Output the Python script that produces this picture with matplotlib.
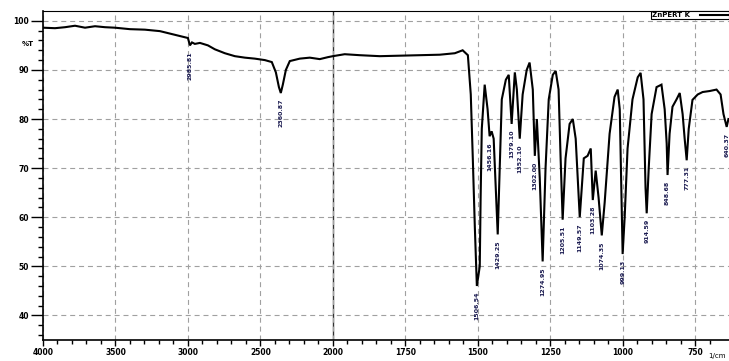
import numpy as np
import matplotlib
matplotlib.use("Agg")
import matplotlib.pyplot as plt
import matplotlib.transforms as mtransforms

# wavenumber (1/cm) and transmittance (%T)
wavenumber = [4000, 3917, 3848, 3779, 3710, 3641, 3572, 3503, 3400, 3297,
              3193, 3110, 3041, 3000, 2986, 2972, 2952, 2917, 2862, 2814,
              2745, 2676, 2607, 2538, 2469, 2421, 2393, 2372, 2359, 2345,
              2324, 2297, 2228, 2159, 2090, 2034, 2000,
              1959, 1907, 1838, 1769, 1700, 1631, 1579, 1552, 1534, 1524,
              1517, 1510, 1503, 1493, 1490, 1486, 1476, 1466, 1459, 1452,
              1445, 1435, 1431, 1424, 1417, 1403, 1393, 1383, 1372, 1365,
              1355, 1345, 1331, 1321, 1310, 1303, 1296, 1286, 1276, 1266,
              1255, 1241, 1231, 1221, 1214, 1207, 1197, 1183, 1172, 1162,
              1155, 1148, 1141, 1134, 1121, 1110, 1103, 1093, 1083, 1072,
              1062, 1045, 1028, 1017, 1010, 1003, 1000, 993, 983, 966,
              948, 938, 928, 921, 917, 910, 900, 883, 866, 855,
              848, 845, 838, 828, 814, 803, 793, 786, 779, 772,
              759, 741, 724, 700, 676, 662, 652, 641, 635]
transmittance = [98.6, 98.5, 98.7, 99.0, 98.6, 98.9, 98.7, 98.6, 98.3, 98.2,
                 97.9, 97.3, 96.8, 96.5, 95.0, 95.6, 95.3, 95.5, 95.0, 94.2,
                 93.4, 92.8, 92.5, 92.3, 92.0, 91.6, 89.5, 86.5, 85.3, 87.0,
                 90.0, 91.8, 92.3, 92.5, 92.2, 92.6, 92.8,
                 93.2, 93.0, 92.8, 92.9, 93.0, 93.1, 93.4, 94.0, 93.0, 85.0,
                 72.0, 58.0, 46.0, 50.0, 64.0, 78.0, 87.0, 82.0, 76.5, 77.5,
                 76.0, 62.0, 56.5, 70.0, 84.0, 88.0, 89.0, 79.0, 89.5, 86.0,
                 76.0, 85.0, 90.0, 91.5, 86.0, 72.5, 80.0, 68.0, 51.0, 70.0,
                 84.0, 89.0, 89.8, 86.0, 72.0, 59.5, 72.0, 79.0, 80.0, 76.0,
                 68.0, 60.0, 66.0, 72.0, 72.5, 74.0, 63.5, 69.5, 64.0, 56.3,
                 63.0, 77.0, 84.5, 86.0, 82.0, 62.0, 52.5, 60.0, 74.0, 84.0,
                 88.5, 89.4, 84.0, 66.0, 60.8, 70.0, 81.0, 86.5, 87.0, 82.0,
                 75.0, 68.6, 77.0, 82.5, 84.0, 85.3, 81.0, 76.0, 71.6, 78.0,
                 83.9, 85.0, 85.5, 85.7, 86.0, 85.0, 81.0, 78.4, 80.0]

# peak annotations
peak_pos = [2986, 2359, 1503, 1459, 1431, 1383, 1355, 1303, 1276, 1207,
            1148, 1103, 1072, 1000, 917, 845, 779, 641]
peak_lbl = ["2985.81", "2360.87", "1506.54", "1456.16", "1429.25", "1379.10",
            "1352.10", "1302.00", "1274.95", "1205.51", "1149.57", "1103.28",
            "1074.35", "999.13", "914.59", "848.68", "777.31", "640.37"]

xticks = [4000, 3500, 3000, 2500, 2000, 1750, 1500, 1250, 1000, 750]
yticks = [40, 50, 60, 70, 80, 90, 100]


def fwd(w):
    w = np.asarray(w, dtype=float)
    return np.where(w > 2000, 2000 + (w - 2000) / 2.0, w)


def inv(u):
    u = np.asarray(u, dtype=float)
    return np.where(u > 2000, 2000 + (u - 2000) * 2.0, u)


fig = plt.figure(figsize=(7.29, 3.61), dpi=100)
ax = fig.add_axes([43 / 729, 1 - 340 / 361, 1 - 43 / 729, 329 / 361])
ax.set_xscale("function", functions=(fwd, inv))

ax.plot(wavenumber, transmittance, color="black", lw=1.5, label="ZnPERT K",
        zorder=3, solid_joinstyle="miter")

ax.set_xlim(4000, 633)
ax.set_ylim(35, 102)

ax.set_xticks(xticks)
ax.set_xticklabels([str(t) for t in xticks])
ax.set_xticks(list(np.arange(700, 2000, 50)) + list(np.arange(2100, 4000, 100)),
              minor=True)
ax.set_yticks(yticks)
ax.set_yticks(np.arange(36, 102, 2), minor=True)

ax.grid(which="major", ls=(0, (4.5, 3.5)), color="#a0a0a0", lw=0.8, zorder=0)
ax.axvline(2000, color="#333333", lw=1.0, zorder=1)

ax.tick_params(axis="y", which="major", length=8.5, width=1.0, pad=1.5,
               labelsize=5.5)
ax.tick_params(axis="y", which="minor", length=3.5, width=1.0)
ax.tick_params(axis="x", which="major", length=4, width=1.0, pad=2,
               labelsize=5.5)
ax.tick_params(axis="x", which="minor", length=3, width=1.0)
for lab in ax.get_xticklabels() + ax.get_yticklabels():
    lab.set_fontweight("bold")

for side in ["left", "bottom"]:
    ax.spines[side].set_linewidth(1.2)
ax.spines["top"].set_linewidth(0.8)
ax.spines["right"].set_visible(False)

trans = mtransforms.blended_transform_factory(ax.transAxes, ax.transData)
ax.text(-0.014, 95.3, "%T", transform=trans, ha="right", va="center",
        fontsize=5, fontweight="bold")

for p, lbl in zip(peak_pos, peak_lbl):
    tmin = transmittance[wavenumber.index(p)]
    ax.text(p, tmin - 1.2, lbl, rotation=90, ha="center", va="top",
            fontsize=4.5, fontweight="bold", color="#1a1a50", zorder=4)

fig.text(0.995, 0.005, "1/cm", ha="right", va="bottom", fontsize=5)

leg = ax.legend(loc="upper right", bbox_to_anchor=(1.0, 1.0),
                borderaxespad=0, borderpad=0.15, handlelength=4.0,
                handletextpad=1.5, markerfirst=False, fancybox=False,
                framealpha=1, edgecolor="black",
                prop={"size": 5, "weight": "bold"})
leg.get_frame().set_linewidth(0.8)

fig.savefig("out.png", dpi=100)
